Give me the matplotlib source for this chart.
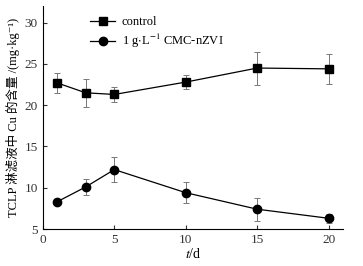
import matplotlib
matplotlib.use('Agg')
import matplotlib.pyplot as plt

plt.rcParams['font.family'] = ['Liberation Serif', 'Noto Sans CJK SC', 'DejaVu Serif']
plt.rcParams['mathtext.fontset'] = 'stix'

# days
days = [1, 3, 5, 10, 15, 20]

# Cu content in TCLP leachate (mg/kg)
control = [22.7, 21.5, 21.3, 22.8, 24.5, 24.4]
control_err = [1.25, 1.7, 0.95, 0.85, 2.0, 1.8]
nzvi = [8.3, 10.1, 12.2, 9.4, 7.4, 6.3]
nzvi_err = [0.2, 0.95, 1.55, 1.3, 1.4, 0.55]

fig = plt.figure(figsize=(3.63, 2.66), dpi=100)
ax = fig.add_axes([0.118, 0.139, 0.827, 0.838])

eb = dict(fmt='none', ecolor='#777777', elinewidth=0.7, capsize=2, capthick=0.7)
ax.errorbar(days, control, yerr=control_err, **eb)
ax.errorbar(days, nzvi, yerr=nzvi_err, **eb)
ax.plot(days, control, color='black', marker='s', markersize=5.5, linewidth=0.9,
        label='control')
ax.plot(days, nzvi, color='black', marker='o', markersize=6, linewidth=0.9,
        label=r'1 g$\cdot$L$^{-1}$ CMC-nZVI')

ax.set_xlim(0, 21)
ax.set_ylim(5, 32)
ax.set_xticks([0, 5, 10, 15, 20])
ax.set_yticks([5, 10, 15, 20, 25, 30])
ax.spines['top'].set_visible(False)
ax.spines['right'].set_visible(False)
ax.tick_params(direction='in', length=3, width=0.8, labelsize=9.5, colors='#333333')
ax.set_xlabel(r'$t$/d', fontsize=10, labelpad=1)
ax.set_ylabel('TCLP 淋滤液中 Cu 的含量 /(mg·kg⁻¹)', fontsize=9, labelpad=3)

ax.legend(loc='upper left', bbox_to_anchor=(0.125, 1.0), frameon=False,
          fontsize=9, handlelength=2.0, handletextpad=0.5, borderaxespad=0.4,
          labelspacing=0.3)

fig.savefig('out.png', dpi=100)
